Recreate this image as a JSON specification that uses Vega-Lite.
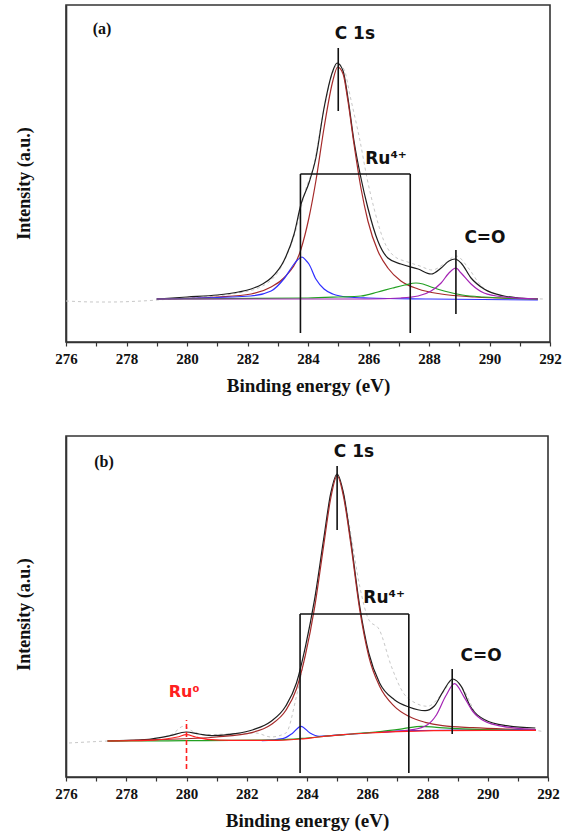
{
  "$schema": "https://vega.github.io/schema/vega-lite/v6.json",
  "background": "white",
  "padding": {"left": 14, "top": 4, "right": 14, "bottom": 0},
  "spacing": 39,
  "config": {
    "view": {"stroke": "#333", "strokeWidth": 1.6},
    "axis": {"grid": false, "domainColor": "#333", "domainWidth": 1.6, "tickColor": "#333", "tickWidth": 1.2,
      "labelFont": "Liberation Serif", "labelFontWeight": "bold", "labelFontSize": 15, "labelColor": "#111",
      "titleFont": "Liberation Serif", "titleFontWeight": "bold", "titleFontSize": 19, "titleColor": "#111"},
    "axisX": {"values": [276,277,278,279,280,281,282,283,284,285,286,287,288,289,290,291,292], "labelExpr": "datum.value % 2 === 0 ? datum.label : ''", "tickSize": 4, "labelPadding": 5, "titlePadding": 10, "labelOverlap": false, "labelFlush": false},
    "axisY": {"labels": false, "ticks": false, "titlePadding": 33, "titleFontSize": 18, "titleY": 178}
  },
  "datasets": {
    "rawA": [
      {"e":276,"i":41},{"e":277,"i":40},{"e":277.5,"i":40},{"e":278.5,"i":41},{"e":279.5,"i":43},{"e":280.5,"i":45},{"e":281.5,"i":48},{"e":282.5,"i":56},{"e":283.2,"i":80},{"e":283.6,"i":112},{"e":283.9,"i":150},{"e":284.2,"i":178},{"e":284.5,"i":228},{"e":284.8,"i":268},{"e":285.0,"i":278},{"e":285.2,"i":272},{"e":285.4,"i":245},{"e":285.72,"i":201},{"e":285.95,"i":164},{"e":286.18,"i":134},{"e":286.51,"i":101},{"e":286.84,"i":86},{"e":287.3,"i":80},{"e":287.7,"i":76},{"e":288.1,"i":72},{"e":288.5,"i":78},{"e":288.9,"i":86},{"e":289.3,"i":74},{"e":289.7,"i":57},{"e":290.3,"i":47},{"e":291,"i":44},{"e":291.8,"i":43}
    ],
    "fitA": [
      {"e":279,"i":43,"s":"Envelope"},{"e":280,"i":45,"s":"Envelope"},{"e":281,"i":47,"s":"Envelope"},{"e":281.7,"i":50,"s":"Envelope"},{"e":282.12,"i":53,"s":"Envelope"},{"e":282.5,"i":58,"s":"Envelope"},{"e":282.78,"i":64,"s":"Envelope"},{"e":283.2,"i":81,"s":"Envelope"},{"e":283.54,"i":108,"s":"Envelope"},{"e":283.77,"i":138,"s":"Envelope"},{"e":284.03,"i":159,"s":"Envelope"},{"e":284.26,"i":184,"s":"Envelope"},{"e":284.53,"i":234,"s":"Envelope"},{"e":284.82,"i":271,"s":"Envelope"},{"e":284.96,"i":279,"s":"Envelope"},{"e":285.16,"i":271,"s":"Envelope"},{"e":285.32,"i":244,"s":"Envelope"},{"e":285.52,"i":201,"s":"Envelope"},{"e":285.75,"i":164,"s":"Envelope"},{"e":285.98,"i":134,"s":"Envelope"},{"e":286.31,"i":101,"s":"Envelope"},{"e":286.64,"i":84,"s":"Envelope"},{"e":287.07,"i":78,"s":"Envelope"},{"e":287.64,"i":73,"s":"Envelope"},{"e":288.07,"i":68,"s":"Envelope"},{"e":288.4,"i":74,"s":"Envelope"},{"e":288.66,"i":81,"s":"Envelope"},{"e":288.86,"i":83,"s":"Envelope"},{"e":289.06,"i":79,"s":"Envelope"},{"e":289.39,"i":64,"s":"Envelope"},{"e":289.82,"i":53,"s":"Envelope"},{"e":290.48,"i":46,"s":"Envelope"},{"e":291,"i":44,"s":"Envelope"},{"e":291.6,"i":43,"s":"Envelope"},
      {"e":279,"i":43,"s":"C1s"},{"e":281,"i":45,"s":"C1s"},{"e":282.12,"i":48,"s":"C1s"},{"e":282.78,"i":55,"s":"C1s"},{"e":283.2,"i":64,"s":"C1s"},{"e":283.77,"i":93,"s":"C1s"},{"e":284.03,"i":124,"s":"C1s"},{"e":284.26,"i":161,"s":"C1s"},{"e":284.53,"i":214,"s":"C1s"},{"e":284.82,"i":261,"s":"C1s"},{"e":284.98,"i":275,"s":"C1s"},{"e":285.16,"i":268,"s":"C1s"},{"e":285.32,"i":241,"s":"C1s"},{"e":285.52,"i":198,"s":"C1s"},{"e":285.75,"i":154,"s":"C1s"},{"e":285.98,"i":121,"s":"C1s"},{"e":286.31,"i":91,"s":"C1s"},{"e":286.64,"i":74,"s":"C1s"},{"e":287.07,"i":61,"s":"C1s"},{"e":287.64,"i":53,"s":"C1s"},{"e":288.4,"i":48,"s":"C1s"},{"e":289.5,"i":45,"s":"C1s"},{"e":291.6,"i":43,"s":"C1s"},
      {"e":279,"i":43,"s":"P2838"},{"e":282.1,"i":46,"s":"P2838"},{"e":282.78,"i":51,"s":"P2838"},{"e":283.2,"i":63,"s":"P2838"},{"e":283.54,"i":78,"s":"P2838"},{"e":283.65,"i":82,"s":"P2838"},{"e":283.8,"i":85,"s":"P2838"},{"e":283.95,"i":81,"s":"P2838"},{"e":284.03,"i":78,"s":"P2838"},{"e":284.26,"i":63,"s":"P2838"},{"e":284.53,"i":53,"s":"P2838"},{"e":284.82,"i":48,"s":"P2838"},{"e":285.3,"i":45,"s":"P2838"},{"e":286,"i":44,"s":"P2838"},{"e":288,"i":43,"s":"P2838"},{"e":291.6,"i":42,"s":"P2838"},
      {"e":279,"i":43,"s":"P2875"},{"e":284,"i":44,"s":"P2875"},{"e":285,"i":45,"s":"P2875"},{"e":285.75,"i":46,"s":"P2875"},{"e":286.31,"i":50,"s":"P2875"},{"e":286.8,"i":54,"s":"P2875"},{"e":287.2,"i":57,"s":"P2875"},{"e":287.57,"i":59,"s":"P2875"},{"e":287.8,"i":58,"s":"P2875"},{"e":288.07,"i":55,"s":"P2875"},{"e":288.5,"i":51,"s":"P2875"},{"e":289.1,"i":47,"s":"P2875"},{"e":289.8,"i":45,"s":"P2875"},{"e":291.6,"i":43,"s":"P2875"},
      {"e":279,"i":43,"s":"CO"},{"e":286,"i":43,"s":"CO"},{"e":287.07,"i":44,"s":"CO"},{"e":287.64,"i":46,"s":"CO"},{"e":288.07,"i":51,"s":"CO"},{"e":288.4,"i":59,"s":"CO"},{"e":288.66,"i":69,"s":"CO"},{"e":288.89,"i":74,"s":"CO"},{"e":289.06,"i":69,"s":"CO"},{"e":289.39,"i":58,"s":"CO"},{"e":289.82,"i":49,"s":"CO"},{"e":290.48,"i":45,"s":"CO"},{"e":291.6,"i":43,"s":"CO"}
    ],
    "segA": [
      {"x1":285.0,"x2":285.0,"y1":231,"y2":294},
      {"x1":283.75,"x2":287.38,"y1":168,"y2":168},
      {"x1":283.75,"x2":283.75,"y1":9,"y2":168},
      {"x1":287.38,"x2":287.38,"y1":9,"y2":168},
      {"x1":288.89,"x2":288.89,"y1":28,"y2":92}
    ],
    "panelA": [{"e":277.19,"i":313,"t":"(a)"}],
    "labA": [
      {"e":285.55,"i":308,"t":"C 1s"},
      {"e":286.58,"i":183,"t":"Ru⁴⁺"},
      {"e":289.85,"i":104,"t":"C=O"}
    ],
    "rawB": [
      {"e":276.1,"i":34},{"e":277.4,"i":36},{"e":278.6,"i":37.3},{"e":279.5,"i":42.3},{"e":279.9,"i":50.7},{"e":280.2,"i":45.7},{"e":280.6,"i":42.3},{"e":281.6,"i":43.3},{"e":282.3,"i":44},{"e":282.8,"i":40},{"e":283.3,"i":44},{"e":283.65,"i":80.7},{"e":283.95,"i":124},{"e":284.25,"i":174},{"e":284.55,"i":234},{"e":284.8,"i":284},{"e":285.0,"i":302.3},{"e":285.2,"i":285.7},{"e":285.45,"i":244},{"e":285.75,"i":190.7},{"e":286.05,"i":157.3},{"e":286.4,"i":147.3},{"e":286.8,"i":110.7},{"e":287.2,"i":84},{"e":287.6,"i":74},{"e":288.0,"i":70.7},{"e":288.5,"i":84},{"e":288.85,"i":97.3},{"e":289.2,"i":87.3},{"e":289.6,"i":64},{"e":290.2,"i":52.3},{"e":291.0,"i":49},{"e":291.8,"i":45.7}
    ],
    "fitB": [
      {"e":277.38,"i":36,"s":"Envelope"},{"e":278.61,"i":37.3,"s":"Envelope"},{"e":279.45,"i":41.3,"s":"Envelope"},{"e":279.99,"i":45,"s":"Envelope"},{"e":280.41,"i":43,"s":"Envelope"},{"e":280.89,"i":41.3,"s":"Envelope"},{"e":281.61,"i":43.3,"s":"Envelope"},{"e":282.21,"i":47.3,"s":"Envelope"},{"e":282.81,"i":55.7,"s":"Envelope"},{"e":283.29,"i":70.7,"s":"Envelope"},{"e":283.65,"i":94,"s":"Envelope"},{"e":283.95,"i":130.7,"s":"Envelope"},{"e":284.25,"i":177.3,"s":"Envelope"},{"e":284.55,"i":237.3,"s":"Envelope"},{"e":284.79,"i":284,"s":"Envelope"},{"e":285.0,"i":303,"s":"Envelope"},{"e":285.21,"i":284,"s":"Envelope"},{"e":285.45,"i":237.3,"s":"Envelope"},{"e":285.75,"i":170.7,"s":"Envelope"},{"e":286.05,"i":124,"s":"Envelope"},{"e":286.41,"i":94,"s":"Envelope"},{"e":286.9,"i":77.3,"s":"Envelope"},{"e":287.38,"i":70,"s":"Envelope"},{"e":287.92,"i":66.3,"s":"Envelope"},{"e":288.22,"i":70.7,"s":"Envelope"},{"e":288.52,"i":85.7,"s":"Envelope"},{"e":288.84,"i":98,"s":"Envelope"},{"e":289.12,"i":90.7,"s":"Envelope"},{"e":289.42,"i":70.7,"s":"Envelope"},{"e":289.9,"i":57.3,"s":"Envelope"},{"e":290.62,"i":51.3,"s":"Envelope"},{"e":291.58,"i":49,"s":"Envelope"},
      {"e":277.38,"i":36,"s":"C1s"},{"e":279,"i":37.3,"s":"C1s"},{"e":281,"i":40,"s":"C1s"},{"e":282.2,"i":44.7,"s":"C1s"},{"e":282.8,"i":52.3,"s":"C1s"},{"e":283.3,"i":66.7,"s":"C1s"},{"e":283.65,"i":88,"s":"C1s"},{"e":283.95,"i":122.3,"s":"C1s"},{"e":284.25,"i":169,"s":"C1s"},{"e":284.55,"i":230.7,"s":"C1s"},{"e":284.79,"i":279,"s":"C1s"},{"e":285.0,"i":301.3,"s":"C1s"},{"e":285.21,"i":280.7,"s":"C1s"},{"e":285.45,"i":234,"s":"C1s"},{"e":285.75,"i":167.3,"s":"C1s"},{"e":286.05,"i":120.7,"s":"C1s"},{"e":286.41,"i":90.7,"s":"C1s"},{"e":286.9,"i":70.7,"s":"C1s"},{"e":287.38,"i":60.7,"s":"C1s"},{"e":287.92,"i":54.7,"s":"C1s"},{"e":288.5,"i":51.3,"s":"C1s"},{"e":289.5,"i":49.3,"s":"C1s"},{"e":290.6,"i":48,"s":"C1s"},{"e":291.6,"i":47.3,"s":"C1s"},
      {"e":282.5,"i":36.3,"s":"P2838"},{"e":283.2,"i":38.3,"s":"P2838"},{"e":283.5,"i":43.3,"s":"P2838"},{"e":283.8,"i":50.7,"s":"P2838"},{"e":284.1,"i":44,"s":"P2838"},{"e":284.4,"i":40.7,"s":"P2838"},{"e":284.8,"i":41.3,"s":"P2838"},{"e":285.5,"i":43,"s":"P2838"},{"e":286.5,"i":45,"s":"P2838"},{"e":287.5,"i":46.3,"s":"P2838"},{"e":289,"i":47,"s":"P2838"},{"e":291.6,"i":47.3,"s":"P2838"},
      {"e":277.38,"i":36,"s":"P2875"},{"e":280,"i":36.3,"s":"P2875"},{"e":283,"i":37,"s":"P2875"},{"e":284,"i":39,"s":"P2875"},{"e":284.8,"i":41.3,"s":"P2875"},{"e":285.5,"i":43,"s":"P2875"},{"e":286.5,"i":45.7,"s":"P2875"},{"e":287.2,"i":48.3,"s":"P2875"},{"e":287.8,"i":50.7,"s":"P2875"},{"e":288.3,"i":49.7,"s":"P2875"},{"e":289,"i":48.3,"s":"P2875"},{"e":290,"i":47.3,"s":"P2875"},{"e":291.6,"i":46.7,"s":"P2875"},
      {"e":286.5,"i":44.7,"s":"CO"},{"e":287.5,"i":47.3,"s":"CO"},{"e":288.0,"i":52.3,"s":"CO"},{"e":288.3,"i":62.3,"s":"CO"},{"e":288.6,"i":80.7,"s":"CO"},{"e":288.9,"i":93.3,"s":"CO"},{"e":289.2,"i":80.7,"s":"CO"},{"e":289.5,"i":65.7,"s":"CO"},{"e":289.9,"i":55.7,"s":"CO"},{"e":290.5,"i":50.7,"s":"CO"},{"e":291.6,"i":47.3,"s":"CO"},
      {"e":277.38,"i":36,"s":"Ru0"},{"e":278.5,"i":36.3,"s":"Ru0"},{"e":279.3,"i":38,"s":"Ru0"},{"e":279.7,"i":40,"s":"Ru0"},{"e":280.0,"i":42.3,"s":"Ru0"},{"e":280.3,"i":40,"s":"Ru0"},{"e":280.7,"i":37.7,"s":"Ru0"},{"e":281.5,"i":36.7,"s":"Ru0"},{"e":283.0,"i":36.7,"s":"Ru0"},{"e":283.8,"i":38,"s":"Ru0"},{"e":284.4,"i":40,"s":"Ru0"},{"e":285.2,"i":42.3,"s":"Ru0"},{"e":286.05,"i":44,"s":"Ru0"},{"e":287.0,"i":45.3,"s":"Ru0"},{"e":288.2,"i":46.3,"s":"Ru0"},{"e":290,"i":46.7,"s":"Ru0"},{"e":291.6,"i":46.7,"s":"Ru0"}
    ],
    "segB": [
      {"x1":285.0,"x2":285.0,"y1":247,"y2":311},
      {"x1":283.77,"x2":287.38,"y1":163,"y2":163},
      {"x1":283.77,"x2":283.77,"y1":4,"y2":163},
      {"x1":287.38,"x2":287.38,"y1":4,"y2":163},
      {"x1":288.82,"x2":288.82,"y1":43,"y2":108}
    ],
    "segRu0": [{"x1":280.0,"x2":280.0,"y1":8,"y2":57}],
    "panelB": [{"e":277.26,"i":315,"t":"(b)"}],
    "labB": [
      {"e":285.56,"i":325,"t":"C 1s"},
      {"e":286.56,"i":179,"t":"Ru⁴⁺"},
      {"e":289.78,"i":121,"t":"C=O"}
    ],
    "labRu0": [{"e":279.92,"i":85,"t":"Ru⁰"}]
  },
  "vconcat": [
    {
      "width": 484, "height": 337,
      "layer": [
        {"data": {"name": "rawA"}, "mark": {"type": "line", "color": "#c8c8c8", "strokeDash": [3, 3], "strokeWidth": 1, "interpolate": "monotone"},
          "encoding": {
            "x": {"field": "e", "type": "quantitative", "scale": {"domain": [276, 292], "nice": false, "zero": false}, "axis": {"title": "Binding energy (eV)"}},
            "y": {"field": "i", "type": "quantitative", "scale": {"domain": [0, 337], "nice": false}, "axis": {"title": "Intensity (a.u.)"}}
          }},
        {"data": {"name": "fitA"}, "mark": {"type": "line", "strokeWidth": 1.2, "interpolate": "monotone"},
          "encoding": {
            "x": {"field": "e", "type": "quantitative"},
            "y": {"field": "i", "type": "quantitative"},
            "color": {"field": "s", "type": "nominal", "legend": null, "scale": {"domain": ["Envelope", "C1s", "P2838", "P2875", "CO", "Ru0"], "range": ["#1e1e1e", "#a52a2a", "#2f2fff", "#22a022", "#a424b4", "#ff2020"]}}
          }},
        {"data": {"name": "segA"}, "mark": {"type": "rule", "color": "#111", "strokeWidth": 1.6},
          "encoding": {"x": {"field": "x1", "type": "quantitative"}, "x2": {"field": "x2"}, "y": {"field": "y1", "type": "quantitative"}, "y2": {"field": "y2"}}},
        {"data": {"name": "panelA"}, "mark": {"type": "text", "font": "Liberation Serif", "fontWeight": "bold", "fontSize": 16, "color": "#111", "align": "center", "baseline": "middle"},
          "encoding": {"x": {"field": "e", "type": "quantitative"}, "y": {"field": "i", "type": "quantitative"}, "text": {"field": "t"}}},
        {"data": {"name": "labA"}, "mark": {"type": "text", "font": "DejaVu Sans", "fontWeight": "bold", "fontSize": 17, "color": "#111", "align": "center", "baseline": "middle"},
          "encoding": {"x": {"field": "e", "type": "quantitative"}, "y": {"field": "i", "type": "quantitative"}, "text": {"field": "t"}}}
      ]
    },
    {
      "width": 482, "height": 341,
      "layer": [
        {"data": {"name": "rawB"}, "mark": {"type": "line", "color": "#c8c8c8", "strokeDash": [3, 3], "strokeWidth": 1, "interpolate": "monotone"},
          "encoding": {
            "x": {"field": "e", "type": "quantitative", "scale": {"domain": [276, 292], "nice": false, "zero": false}, "axis": {"title": "Binding energy (eV)"}},
            "y": {"field": "i", "type": "quantitative", "scale": {"domain": [0, 341], "nice": false}, "axis": {"title": "Intensity (a.u.)"}}
          }},
        {"data": {"name": "fitB"}, "mark": {"type": "line", "strokeWidth": 1.2, "interpolate": "monotone"},
          "encoding": {
            "x": {"field": "e", "type": "quantitative"},
            "y": {"field": "i", "type": "quantitative"},
            "color": {"field": "s", "type": "nominal", "legend": null, "scale": {"domain": ["Envelope", "C1s", "P2838", "P2875", "CO", "Ru0"], "range": ["#1e1e1e", "#a52a2a", "#2f2fff", "#22a022", "#a424b4", "#ff2020"]}}
          }},
        {"data": {"name": "segB"}, "mark": {"type": "rule", "color": "#111", "strokeWidth": 1.6},
          "encoding": {"x": {"field": "x1", "type": "quantitative"}, "x2": {"field": "x2"}, "y": {"field": "y1", "type": "quantitative"}, "y2": {"field": "y2"}}},
        {"data": {"name": "segRu0"}, "mark": {"type": "rule", "color": "#ff2020", "strokeWidth": 1.6, "strokeDash": [5, 3]},
          "encoding": {"x": {"field": "x1", "type": "quantitative"}, "x2": {"field": "x2"}, "y": {"field": "y1", "type": "quantitative"}, "y2": {"field": "y2"}}},
        {"data": {"name": "panelB"}, "mark": {"type": "text", "font": "Liberation Serif", "fontWeight": "bold", "fontSize": 16, "color": "#111", "align": "center", "baseline": "middle"},
          "encoding": {"x": {"field": "e", "type": "quantitative"}, "y": {"field": "i", "type": "quantitative"}, "text": {"field": "t"}}},
        {"data": {"name": "labB"}, "mark": {"type": "text", "font": "DejaVu Sans", "fontWeight": "bold", "fontSize": 17, "color": "#111", "align": "center", "baseline": "middle"},
          "encoding": {"x": {"field": "e", "type": "quantitative"}, "y": {"field": "i", "type": "quantitative"}, "text": {"field": "t"}}},
        {"data": {"name": "labRu0"}, "mark": {"type": "text", "font": "DejaVu Sans", "fontWeight": "bold", "fontSize": 16, "color": "#ff2020", "align": "center", "baseline": "middle"},
          "encoding": {"x": {"field": "e", "type": "quantitative"}, "y": {"field": "i", "type": "quantitative"}, "text": {"field": "t"}}}
      ]
    }
  ]
}
